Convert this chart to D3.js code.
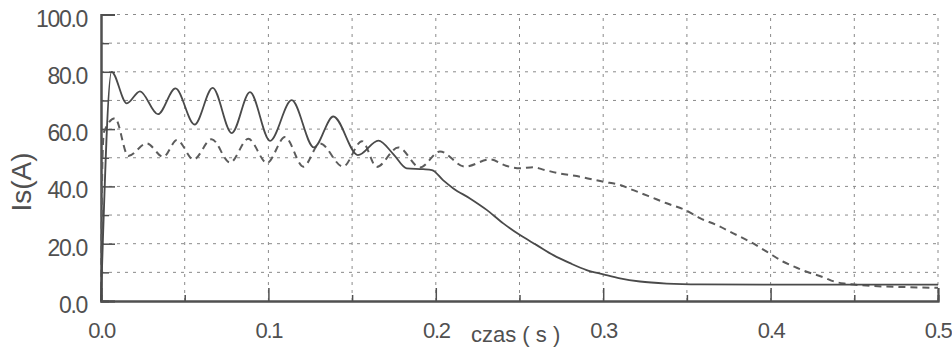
<!DOCTYPE html>
<html>
<head>
<meta charset="utf-8">
<script src="https://cdn.jsdelivr.net/npm/d3@7"></script>
<style>
  body { margin: 0; background: #fff; }
  svg { display: block; }
  text { font-family: "Liberation Sans", Arial, sans-serif; fill: #505050; }
</style>
</head>
<body>
<div id="chart"></div>
<script>
// solid curve: time (s) / current Is (A)
var solidTime = [0, 0.0063, 0.0154, 0.0233, 0.034, 0.0445, 0.0559, 0.0667, 0.0781, 0.089, 0.101,
    0.1139, 0.1272, 0.1388, 0.1535, 0.1657, 0.1746, 0.1826, 0.1924, 0.1977, 0.2043, 0.2105,
    0.2204, 0.2304, 0.2403, 0.2503, 0.2603, 0.2702, 0.2802, 0.2901, 0.3001, 0.31, 0.322,
    0.3379, 0.3578, 0.4176, 0.5]
var solidIs = [0, 80.0, 69.0, 73.2, 65.2, 74.2, 61.6, 74.4, 58.6, 72.9, 55.9,
    70.1, 53.6, 64.4, 50.9, 56.0, 51.3, 46.3, 46.0, 45.7, 42.2, 39.3,
    35.8, 31.8, 27.1, 23.0, 19.5, 16.0, 13.2, 10.8, 9.3, 7.9, 6.8,
    6.1, 5.8, 5.7, 5.7]

// dashed curve
var dashedTime = [0, 0.0009, 0.0018, 0.0084, 0.0163, 0.0273, 0.0372, 0.0454, 0.0553, 0.0661,
    0.0771, 0.088, 0.0992, 0.1099, 0.1209, 0.1308, 0.1446, 0.1559, 0.1647, 0.1776, 0.1906,
    0.2025, 0.2174, 0.2324, 0.2419, 0.2503, 0.2581, 0.2652, 0.2742, 0.2861, 0.3001, 0.31,
    0.318, 0.328, 0.3379, 0.3499, 0.3578, 0.3678, 0.3777, 0.3877, 0.3977, 0.4076, 0.4156,
    0.4216, 0.4315, 0.4385, 0.4455, 0.4594, 0.4773, 0.5]
var dashedIs = [0, 50, 59, 63.8, 50.6, 55.0, 50.3, 56.2, 49.4, 56.5,
    48.3, 56.6, 48.2, 57.2, 46.9, 55.0, 46.9, 55.8, 46.8, 53.6, 46.6,
    52.2, 46.9, 49.4, 47.2, 46.3, 46.7, 45.7, 44.5, 43.4, 41.6, 40.5,
    38.7, 36.4, 34.1, 31.5, 28.9, 26.5, 23.6, 20.7, 17.2, 13.7, 11.6,
    10.2, 8.3, 6.7, 6.0, 5.3, 4.9, 4.6]

var xTicks = [0, 0.1, 0.2, 0.3, 0.4, 0.5]
var xMinorTicks = [0.05, 0.15, 0.25, 0.35, 0.45]
var xGrid = [0.05, 0.1, 0.15, 0.2, 0.25, 0.3, 0.35, 0.4, 0.45, 0.5]
var yTicks = [0, 20, 40, 60, 80, 100]
var yMinorTicks = [10, 30, 50, 70, 90]
var yGrid = [10, 20, 30, 40, 50, 60, 70, 80, 90, 100]

var W = 952, H = 348
var x = d3.scaleLinear().domain([0, 0.5]).range([101, 938])
var y = d3.scaleLinear().domain([0, 100]).range([301, 14.5])

var svg = d3.select("#chart").append("svg")
    .attr("width", W)
    .attr("height", H)

// grid
svg.append("g").selectAll("line")
    .data(yGrid)
  .enter().append("line")
    .attr("x1", x(0)).attr("x2", x(0.5))
    .attr("y1", function(d) { return y(d) }).attr("y2", function(d) { return y(d) })
    .attr("stroke", "#8a8a8a").attr("stroke-width", 1)
    .attr("stroke-dasharray", "3,5")
svg.append("g").selectAll("line")
    .data(xGrid)
  .enter().append("line")
    .attr("x1", function(d) { return x(d) }).attr("x2", function(d) { return x(d) })
    .attr("y1", y(0)).attr("y2", y(100))
    .attr("stroke", "#8a8a8a").attr("stroke-width", 1)
    .attr("stroke-dasharray", "3,5")

// axes (ticks pointing inward)
var yAxis = svg.append("g")
    .attr("transform", "translate(" + x(0) + ",0)")
    .call(d3.axisLeft(y).tickValues(yTicks).tickSize(-14).tickPadding(14)
        .tickFormat(d3.format(".1f")))
yAxis.append("g").call(d3.axisLeft(y).tickValues(yMinorTicks).tickSize(-8).tickFormat(""))

var xAxis = svg.append("g")
    .attr("transform", "translate(0," + y(0) + ")")
    .call(d3.axisBottom(x).tickValues(xTicks).tickSize(-13).tickPadding(21)
        .tickFormat(d3.format(".1f")))
xAxis.append("g").call(d3.axisBottom(x).tickValues(xMinorTicks).tickSize(-6).tickFormat(""))

svg.selectAll(".domain").attr("stroke", "#505050").attr("stroke-width", 2)
svg.selectAll(".tick line").attr("stroke", "#505050").attr("stroke-width", 1.5)
svg.selectAll(".tick text")
    .style("font-family", "'Liberation Sans', Arial, sans-serif")
    .attr("fill", "#505050")
    .attr("letter-spacing", "-1.3px")
yAxis.selectAll(".tick text").attr("font-size", 23).attr("dy", "0.5em")
xAxis.selectAll(".tick text").attr("font-size", 22)
// last label sits at the right edge: anchor it to the end so it stays inside
xAxis.selectAll(".tick text").filter(function(d) { return d === 0.5 })
    .attr("text-anchor", "end").attr("x", W - 1 - x(0.5))

// curves
var line = d3.line()
    .x(function(d) { return x(d[0]) })
    .y(function(d) { return y(d[1]) })
    .curve(d3.curveMonotoneX)

svg.append("path")
    .datum(d3.zip(dashedTime, dashedIs))
    .attr("d", line)
    .attr("fill", "none")
    .attr("stroke", "#5c5c5c")
    .attr("stroke-width", 2)
    .attr("stroke-dasharray", "7,5")

svg.append("path")
    .datum(d3.zip(solidTime, solidIs))
    .attr("d", line)
    .attr("fill", "none")
    .attr("stroke", "#4a4a4a")
    .attr("stroke-width", 1.8)

// axis titles
svg.append("text")
    .attr("transform", "translate(31,182) rotate(-90)")
    .attr("text-anchor", "middle")
    .attr("font-size", 28)
    .text("Is(A)")

svg.append("text")
    .attr("x", 471)
    .attr("y", 342)
    .attr("font-size", 22)
    .text("czas ( s )")
</script>
</body>
</html>
